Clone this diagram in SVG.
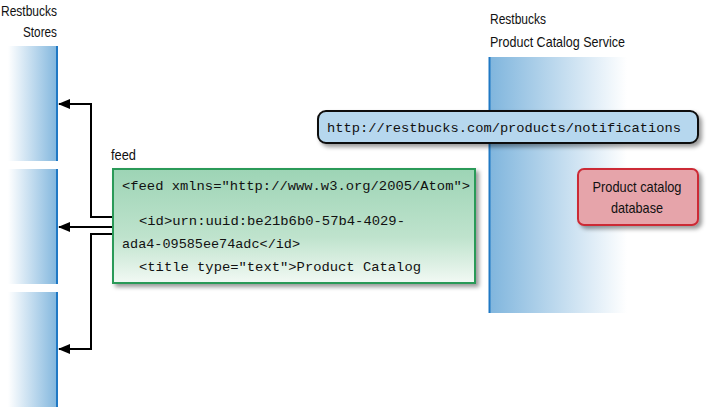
<svg xmlns="http://www.w3.org/2000/svg" width="712" height="407" viewBox="0 0 712 407">
<style>
.lbl{font-family:"Liberation Sans",Arial,sans-serif;font-size:15px;fill:#111}
.mono{font-family:"Liberation Mono","DejaVu Sans Mono",monospace;font-size:13.5px;fill:#111}
.conn{fill:none;stroke:#000;stroke-width:2}
</style>
<defs>
<linearGradient id="storeGrad" x1="0" y1="0" x2="1" y2="0">
<stop offset="0" stop-color="#ffffff"/>
<stop offset="1" stop-color="#7fb5dd"/>
</linearGradient>
<linearGradient id="svcGrad" x1="0" y1="0" x2="1" y2="0">
<stop offset="0" stop-color="#7fb5dd"/>
<stop offset="1" stop-color="#ffffff"/>
</linearGradient>
<linearGradient id="greenGrad" x1="0" y1="0" x2="0" y2="1">
<stop offset="0" stop-color="#9dd4b5"/>
<stop offset="0.6" stop-color="#bfe3cd"/>
<stop offset="1" stop-color="#f2f9f4"/>
</linearGradient>
<filter id="shadow" x="-10%" y="-10%" width="130%" height="140%">
<feDropShadow dx="3" dy="3" stdDeviation="2" flood-color="#000" flood-opacity="0.4"/>
</filter>
<marker id="arrow" markerWidth="12" markerHeight="10" refX="11" refY="5" orient="auto" markerUnits="userSpaceOnUse">
<path d="M0,0 L12,5 L0,10 Z" fill="#000"/>
</marker>
</defs>

<g id="stores">
<text class="lbl" x="57" y="16" text-anchor="end" textLength="56" lengthAdjust="spacingAndGlyphs">Restbucks</text>
<text class="lbl" x="57" y="37" text-anchor="end" textLength="34" lengthAdjust="spacingAndGlyphs">Stores</text>
</g>
<g id="store1">
<rect x="8" y="46" width="50" height="115" fill="url(#storeGrad)"/>
<line x1="57" y1="46" x2="57" y2="161" stroke="#1f78c4" stroke-width="2"/>
</g>
<g id="store2">
<rect x="8" y="169" width="50" height="115" fill="url(#storeGrad)"/>
<line x1="57" y1="169" x2="57" y2="284" stroke="#1f78c4" stroke-width="2"/>
</g>
<g id="store3">
<rect x="8" y="292" width="50" height="115" fill="url(#storeGrad)"/>
<line x1="57" y1="292" x2="57" y2="407" stroke="#1f78c4" stroke-width="2"/>
</g>

<g id="service">
<rect x="489" y="57" width="138" height="256" fill="url(#svcGrad)"/>
<line x1="489.5" y1="57" x2="489.5" y2="313" stroke="#1f78c4" stroke-width="2"/>
<text class="lbl" x="490" y="24" textLength="56" lengthAdjust="spacingAndGlyphs">Restbucks</text>
<text class="lbl" x="490" y="47" textLength="135" lengthAdjust="spacingAndGlyphs">Product Catalog Service</text>
</g>

<g id="connectors">
<path class="conn" d="M113,217 H91 V104 H59" marker-end="url(#arrow)"/>
<path class="conn" d="M113,227 H59" marker-end="url(#arrow)"/>
<path class="conn" d="M113,234 H91 V349 H59" marker-end="url(#arrow)"/>
</g>

<g id="feed">
<text class="lbl" x="111" y="160" textLength="25" lengthAdjust="spacingAndGlyphs">feed</text>
<rect x="113" y="169" width="362" height="114" fill="url(#greenGrad)" stroke="#2a9a58" stroke-width="2" filter="url(#shadow)"/>
<text class="mono" x="122" y="190" textLength="348" lengthAdjust="spacingAndGlyphs">&lt;feed xmlns="http://www.w3.org/2005/Atom"&gt;</text>
<text class="mono" x="139" y="225" textLength="266" lengthAdjust="spacingAndGlyphs">&lt;id&gt;urn:uuid:be21b6b0-57b4-4029-</text>
<text class="mono" x="122" y="248" textLength="178" lengthAdjust="spacingAndGlyphs">ada4-09585ee74adc&lt;/id&gt;</text>
<text class="mono" x="139" y="271" textLength="282" lengthAdjust="spacingAndGlyphs">&lt;title type="text"&gt;Product Catalog</text>
</g>

<g id="notifications">
<rect x="318" y="111" width="380" height="32" rx="8" ry="8" fill="#b6d7ee" stroke="#111" stroke-width="2" filter="url(#shadow)"/>
<text class="mono" x="327" y="132" font-size="13.6" textLength="354" lengthAdjust="spacingAndGlyphs">http://restbucks.com/products/notifications</text>
</g>

<g id="database">
<rect x="578" y="169" width="120" height="56" rx="6" ry="6" fill="#e6a4aa" stroke="#cc2b36" stroke-width="2" filter="url(#shadow)"/>
<text class="lbl" x="637" y="192" text-anchor="middle" textLength="89" lengthAdjust="spacingAndGlyphs">Product catalog</text>
<text class="lbl" x="637" y="213" text-anchor="middle" textLength="52" lengthAdjust="spacingAndGlyphs">database</text>
</g>
</svg>
